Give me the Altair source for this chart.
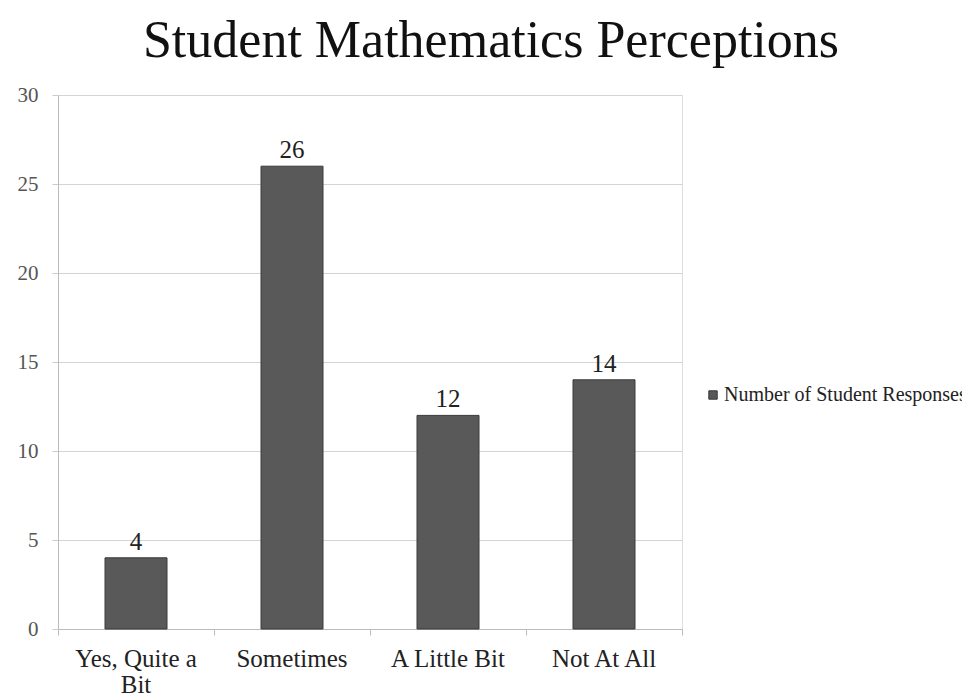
import altair as alt
import pandas as pd

categories = ["Yes, Quite a Bit", "Sometimes", "A Little Bit", "Not At All"]
category_labels = ["Yes, Quite a|Bit", "Sometimes", "A Little Bit", "Not At All"]
responses = [4, 26, 12, 14]
series_name = ["Number of Student Responses"] * 4
y_ticks = [0, 5, 10, 15, 20, 25, 30]

df = pd.DataFrame({"category": categories, "label": category_labels,
                   "value": responses, "series": series_name})

serif = "Liberation Serif"

x_enc = alt.X("category:N", sort=categories, title=None,
              scale=alt.Scale(paddingInner=0, paddingOuter=0),
              axis=alt.Axis(labels=False, tickBand="extent", tickSize=6, tickColor="#bbb",
                            domainColor="#bbb", grid=False))

bars = alt.Chart(df).mark_bar(size=62, stroke="#3a3a3a", strokeWidth=1).encode(
    x=x_enc,
    y=alt.Y("value:Q", title=None, scale=alt.Scale(domain=[0, 30]),
            axis=alt.Axis(values=y_ticks, labelFont=serif, labelFontSize=21, labelColor="#555",
                          labelPadding=14, tickSize=6, tickColor="#ccc", domainColor="#bbb",
                          gridColor="#d4d4d4")),
    color=alt.Color("series:N", scale=alt.Scale(range=["#595959"]),
                    legend=alt.Legend(title=None, orient="none", legendX=645, legendY=290,
                                      labelFont=serif, labelFontSize=20, labelColor="#222",
                                      symbolType="square", symbolSize=70, symbolStrokeColor="#333",
                                      symbolStrokeWidth=1, labelLimit=400, labelOffset=1)),
)

labels = alt.Chart(df).mark_text(dy=-16, font=serif, fontSize=25, color="#222").encode(
    x=alt.X("category:N", sort=categories),
    y="value:Q", text="value:Q"
)

xlabels = alt.Chart(df).mark_text(font=serif, fontSize=25, color="#222", baseline="top",
                                  dy=18, lineBreak="|", lineHeight=26).encode(
    x=alt.X("category:N", sort=categories),
    y=alt.datum(0),
    text="label:N",
)

chart = (bars + labels + xlabels).properties(
    width=624, height=534,
    padding={"left": 58, "top": 95, "right": 280, "bottom": 71},
    autosize=alt.AutoSizeParams(type="none"),
    title=alt.Title("Student Mathematics Perceptions", font=serif, fontSize=52,
                    fontWeight="normal", color="#111", anchor="middle", dx=121, offset=16),
).configure_view(stroke=None).configure(background="white", font=serif)

chart.save("out.html", embed_options={"renderer": "svg", "actions": False})
